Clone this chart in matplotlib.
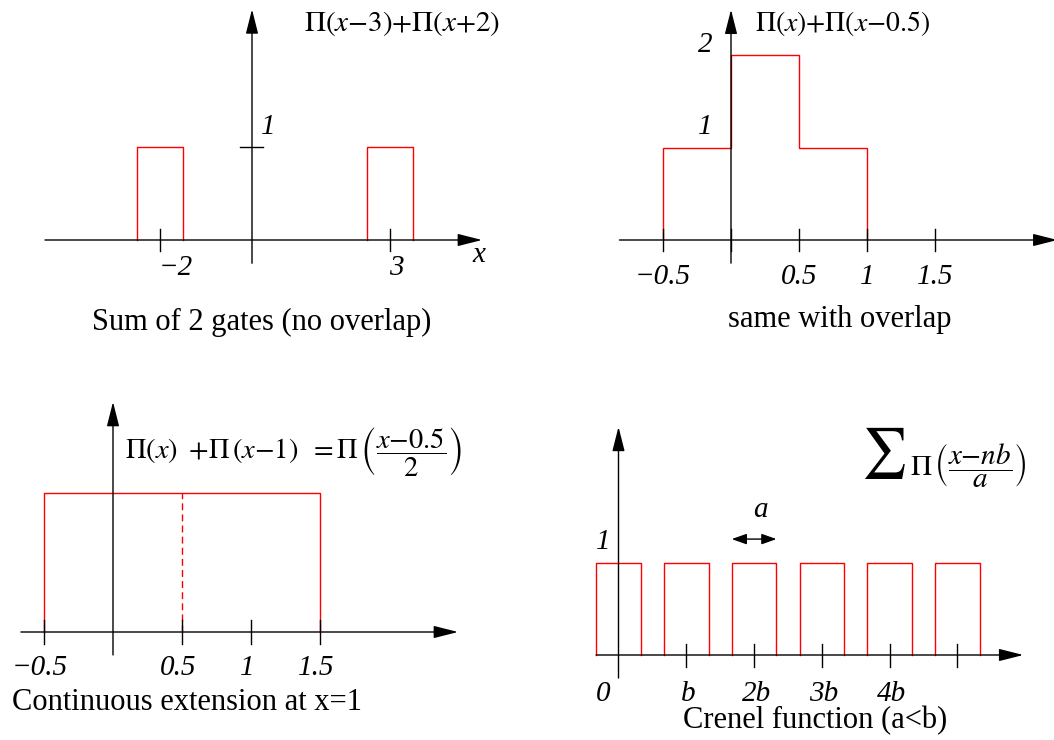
import matplotlib
matplotlib.use("Agg")
import matplotlib.pyplot as plt
import numpy as np

plt.rcParams['font.family'] = ['Liberation Serif', 'DejaVu Serif']
plt.rcParams['mathtext.fontset'] = 'stix'

W, H = 1054, 740
RED = '#ff0000'
LW = 1.0

# ---- data ----
# Panel 1: two separate gates
gates1_centers = [-2, 3]
gates1_width = 1.0
ticks1_x = [-2, 3]
ticklabels1_x = ['\u22122', '3']

# Panel 2: overlapping gates -> staircase
steps2_edges = [-0.5, 0.0, 0.5, 1.0]
steps2_levels = [1, 2, 1]
ticks2_x = [-0.5, 0, 0.5, 1, 1.5]
ticklabels2_x = ['\u22120.5', '', '0.5', '1', '1.5']

# Panel 3: adjacent gates merged into one wide gate
gate3_edges = [-0.5, 1.5]
gate3_join = 0.5
ticks3_x = [-0.5, 0.5, 1, 1.5]
ticklabels3_x = ['\u22120.5', '0.5', '1', '1.5']

# Panel 4: crenel function, period b = 1, width a
crenel_n = [0, 1, 2, 3, 4, 5]
crenel_a = 0.66
ticks4_x = [1, 2, 3, 4, 5]
ticklabels4_x = ['0', 'b', '2b', '3b', '4b']

fig = plt.figure(figsize=(W / 100, H / 100), dpi=100)


def panel(ox, oy, sx, sy):
    """Full-figure transparent axes with origin at pixel (ox, oy)."""
    ax = fig.add_axes([0, 0, 1, 1])
    ax.set_xlim(-ox / sx, (W - ox) / sx)
    ax.set_ylim((oy - H) / sy, oy / sy)
    ax.axis('off')
    ax.patch.set_visible(False)
    return ax


def arrow(ax, start, tip, hl=1.5, hw=0.38, style='-|>'):
    ax.annotate('', xy=tip, xytext=start,
                arrowprops=dict(arrowstyle=f'{style},head_length={hl},head_width={hw}',
                                color='black', lw=LW, shrinkA=0, shrinkB=0,
                                mutation_scale=10),
                annotation_clip=False, zorder=3)


def xticks(ax, xs, half):
    for x in xs:
        ax.plot([x, x], [-half, half], color='black', lw=LW, zorder=3)


TICK_FS = 21
CAP_FS = 22

# ---------------- Panel 1 ----------------
ax1 = panel(252, 240, 46, 93)
for c in gates1_centers:
    l, r = c - gates1_width / 2, c + gates1_width / 2
    ax1.plot([l, l, r, r], [0, 1, 1, 0], color=RED, lw=LW, zorder=2)
arrow(ax1, (-4.5, 0), (5.0, 0))
arrow(ax1, (0, -0.25), (0, 2.48))
xticks(ax1, ticks1_x, 0.12)
ax1.plot([-0.26, 0.24], [1, 1], color='black', lw=LW, zorder=3)
for x, t in zip(ticks1_x, ticklabels1_x):
    ax1.text(x - 0.02, -0.30, t, ha='left', va='center', fontsize=TICK_FS, style='italic')
ax1.text(0.35, 1.21, '1', ha='center', va='center', fontsize=TICK_FS, style='italic')
ax1.text(4.93, -0.16, 'x', ha='center', va='center', fontsize=TICK_FS, style='italic')
ax1.text(3.26, 2.33, r'$\Pi(x{-}3){+}\Pi(x{+}2)$', ha='center', va='center', fontsize=21)
ax1.text(0.2, -0.89, 'Sum of 2 gates (no overlap)', ha='center', va='center', fontsize=CAP_FS)

# ---------------- Panel 2 ----------------
ax2 = panel(731, 240, 136, 92.5)
ax2.stairs(steps2_levels, steps2_edges, baseline=0, color=RED, lw=LW, zorder=2)
arrow(ax2, (-0.82, 0), (2.40, 0))
arrow(ax2, (0, -0.25), (0, 2.49))
xticks(ax2, ticks2_x, 0.12)
for x, t in zip(ticks2_x, ticklabels2_x):
    ax2.text(x, -0.40, t, ha='center', va='center', fontsize=TICK_FS, style='italic')
ax2.text(-0.19, 2.11, '2', ha='center', va='center', fontsize=TICK_FS, style='italic')
ax2.text(-0.19, 1.22, '1', ha='center', va='center', fontsize=TICK_FS, style='italic')
ax2.text(0.18, 2.34, r'$\Pi(x){+}\Pi(x{-}0.5)$', ha='left', va='center', fontsize=20)
ax2.text(0.80, -0.86, 'same with overlap', ha='center', va='center', fontsize=CAP_FS)

# ---------------- Panel 3 ----------------
ax3 = panel(113, 632, 138, 139)
l, r = gate3_edges
ax3.plot([l, l, r, r], [0, 1, 1, 0], color=RED, lw=LW, zorder=2)
ax3.plot([gate3_join, gate3_join], [0, 1], color=RED, lw=LW, ls=(0, (5, 3)), zorder=2)
arrow(ax3, (-0.667, 0), (2.5, 0))
arrow(ax3, (0, -0.165), (0, 1.655))
xticks(ax3, ticks3_x, 0.085)
for x, t in zip(ticks3_x, ticklabels3_x):
    ax3.text(x - 0.03, -0.26, t, ha='center', va='center', fontsize=TICK_FS, style='italic')
ax3.text(0.087, 1.30,
         r'$\Pi\mathit{(x)}\;\;{+}\Pi\,\mathit{(x{-}1)}\;\;{=}\Pi\,\left(\dfrac{\mathit{x{-}0.5}}{\mathit{2}}\right)$',
         ha='left', va='center', fontsize=20.5)
ax3.text(-0.73, -0.51, 'Continuous extension at x=1', ha='left', va='center', fontsize=CAP_FS)

# ---------------- Panel 4 ----------------
ax4 = panel(618.5, 655, 67.8, 92)
for n in crenel_n:
    l, r = n - crenel_a / 2, n + crenel_a / 2
    ax4.plot([l, l, r, r], [0, 1, 1, 0], color=RED, lw=LW, zorder=2)
arrow(ax4, (-crenel_a / 2, 0), (5.97, 0))
arrow(ax4, (0, -0.25), (0, 2.48))
xticks(ax4, ticks4_x, 0.125)
ax4.text(-0.23, -0.42, ticklabels4_x[0], ha='center', va='center', fontsize=TICK_FS, style='italic')
for x, t in zip(ticks4_x[:4], ticklabels4_x[1:]):
    ax4.text(x + 0.03, -0.42, t, ha='center', va='center', fontsize=TICK_FS, style='italic')
ax4.text(-0.23, 1.23, '1', ha='center', va='center', fontsize=TICK_FS, style='italic')
arrow(ax4, (2 - crenel_a / 2, 1.26), (2 + crenel_a / 2, 1.26), hl=0.9, hw=0.32, style='<|-|>')
ax4.text(2.1, 1.58, 'a', ha='center', va='center', fontsize=TICK_FS, style='italic')
ax4.text(3.90, 2.20, r'$\sum$', ha='center', va='center', fontsize=36)
ax4.text(4.30, 2.05, r'$\Pi\,\left(\dfrac{x{-}nb}{a}\right)$', ha='left', va='center', fontsize=21)
ax4.text(2.9, -0.71, 'Crenel function (a<b)', ha='center', va='center', fontsize=CAP_FS)

fig.savefig('out.png', dpi=100)
